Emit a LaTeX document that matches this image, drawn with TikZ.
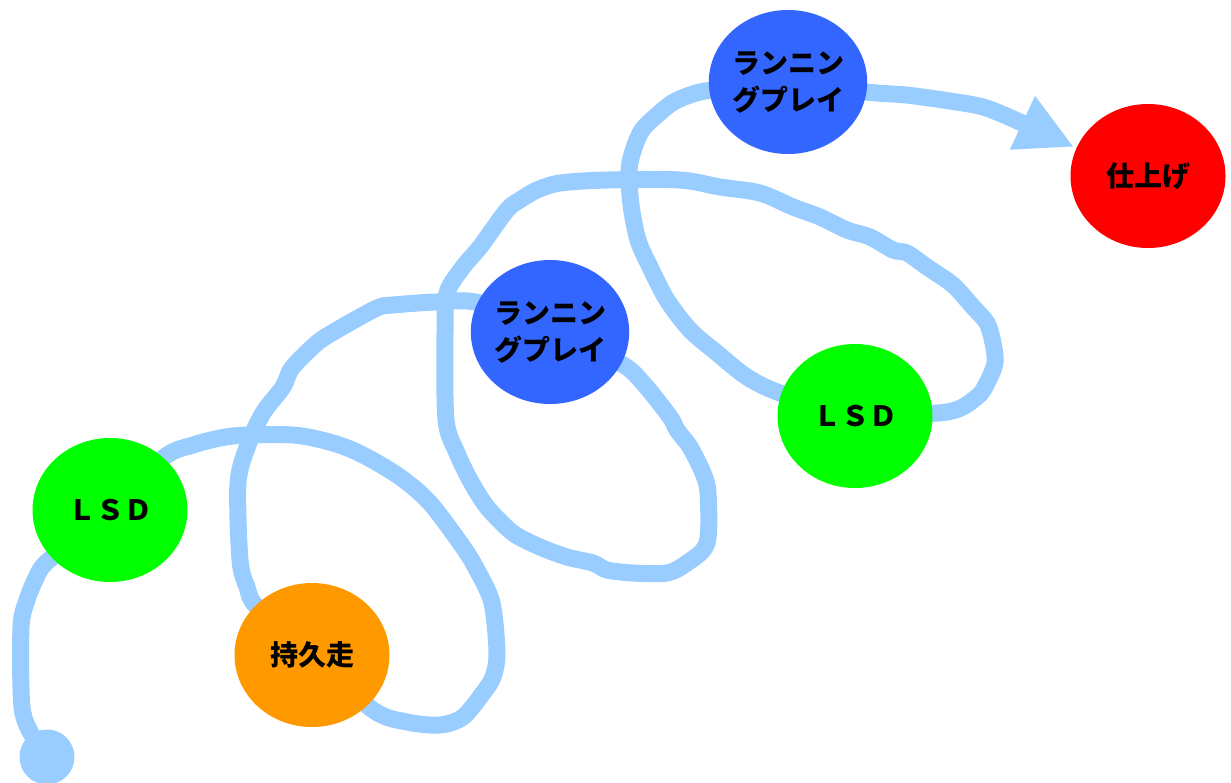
\documentclass[tikz,border=0pt]{standalone}
\usepackage{fontspec}
\newfontfamily\jpfont{Noto Sans CJK JP}
\usetikzlibrary{shapes.geometric,arrows.meta}
\pgfdeclarelayer{background}
\pgfsetlayers{background,main}
\definecolor{flow}{HTML}{99CCFF}
\definecolor{lsdgreen}{HTML}{00FF00}
\definecolor{jogorange}{HTML}{FF9900}
\definecolor{runblue}{HTML}{3366FF}
\definecolor{finred}{HTML}{FF0000}
\begin{document}
\begin{tikzpicture}[x=1pt,y=-1pt,
  stage/.style={ellipse, minimum width=155pt, minimum height=144pt, inner sep=0pt,
    align=center, font=\jpfont\bfseries\fontsize{28}{37}\selectfont},
  flowline/.style={draw=flow, line width=17pt, line join=round, line cap=round}]
\useasboundingbox (0,0) rectangle (1231,782);

\node[stage, fill=lsdgreen] (lsd1) at (110,510) {ＬＳＤ};
\node[stage, fill=jogorange] (jog) at (312,655) {持久走};
\node[stage, fill=runblue] (run1) at (550,332) {ランニン\\グプレイ};
\node[stage, fill=lsdgreen] (lsd2) at (855,416) {ＬＳＤ};
\node[stage, fill=runblue] (run2) at (788,82) {ランニン\\グプレイ};
\node[stage, fill=finred] (fin) at (1148,176) {仕上げ};
\node[circle, fill=flow, minimum size=55pt, inner sep=0pt] (start) at (47,757) {};
\coordinate (tip) at (1074,147);

\begin{pgfonlayer}{background}
\draw[flowline] plot[smooth, tension=0.5] coordinates {(start.center) (33,737) (22,707) (21,627) (27,600) (35,580) (42,567) (55,555) (lsd1.center)};
\draw[flowline] plot[smooth, tension=0.5] coordinates {(lsd1.center) (163,458) (193,445) (233,436) (293,435) (333,443) (363,455) (400,477) (430,503) (463,547) (477,570) (492,603) (497,653) (493,677) (483,693) (463,717) (440,725) (407,722) (373,710) (jog.center)};
\draw[flowline] plot[smooth, tension=0.5] coordinates {(jog.center) (257,607) (247,587) (240,560) (238,483) (248,445) (263,413) (283,387) (292,368) (317,343) (337,330) (377,308) (393,305) (437,302) (480,303) (run1.center)};
\draw[flowline] plot[smooth, tension=0.5] coordinates {(run1.center) (620,363) (643,383) (670,417) (677,430) (690,447) (703,473) (708,493) (707,543) (687,563) (667,573) (633,573) (607,570) (593,563) (567,557) (540,547) (513,533) (487,507) (470,480) (457,453) (446,420) (445,333) (447,293) (463,267) (480,247) (507,210) (520,200) (537,190) (560,183) (607,180) (680,180) (720,187) (760,193) (793,207) (820,217) (847,230) (870,237) (893,250) (907,253) (927,267) (953,285) (973,307) (987,323) (993,343) (995,363) (987,383) (977,397) (947,412) (lsd2.center)};
\draw[flowline] plot[smooth, tension=0.5] coordinates {(lsd2.center) (780,393) (747,377) (717,353) (690,330) (667,300) (650,267) (638,240) (631,205) (629,170) (634,148) (642,130) (655,117) (672,103) (690,95) (712,90) (run2.center)};
\draw[flowline, line cap=butt, -{Triangle[length=57pt,width=55pt]}] plot[smooth, tension=0.5] coordinates {(run2.center) (866,92) (906,95) (943,100) (983,107) (1020,122) (tip)};
\end{pgfonlayer}
\end{tikzpicture}
\end{document}
